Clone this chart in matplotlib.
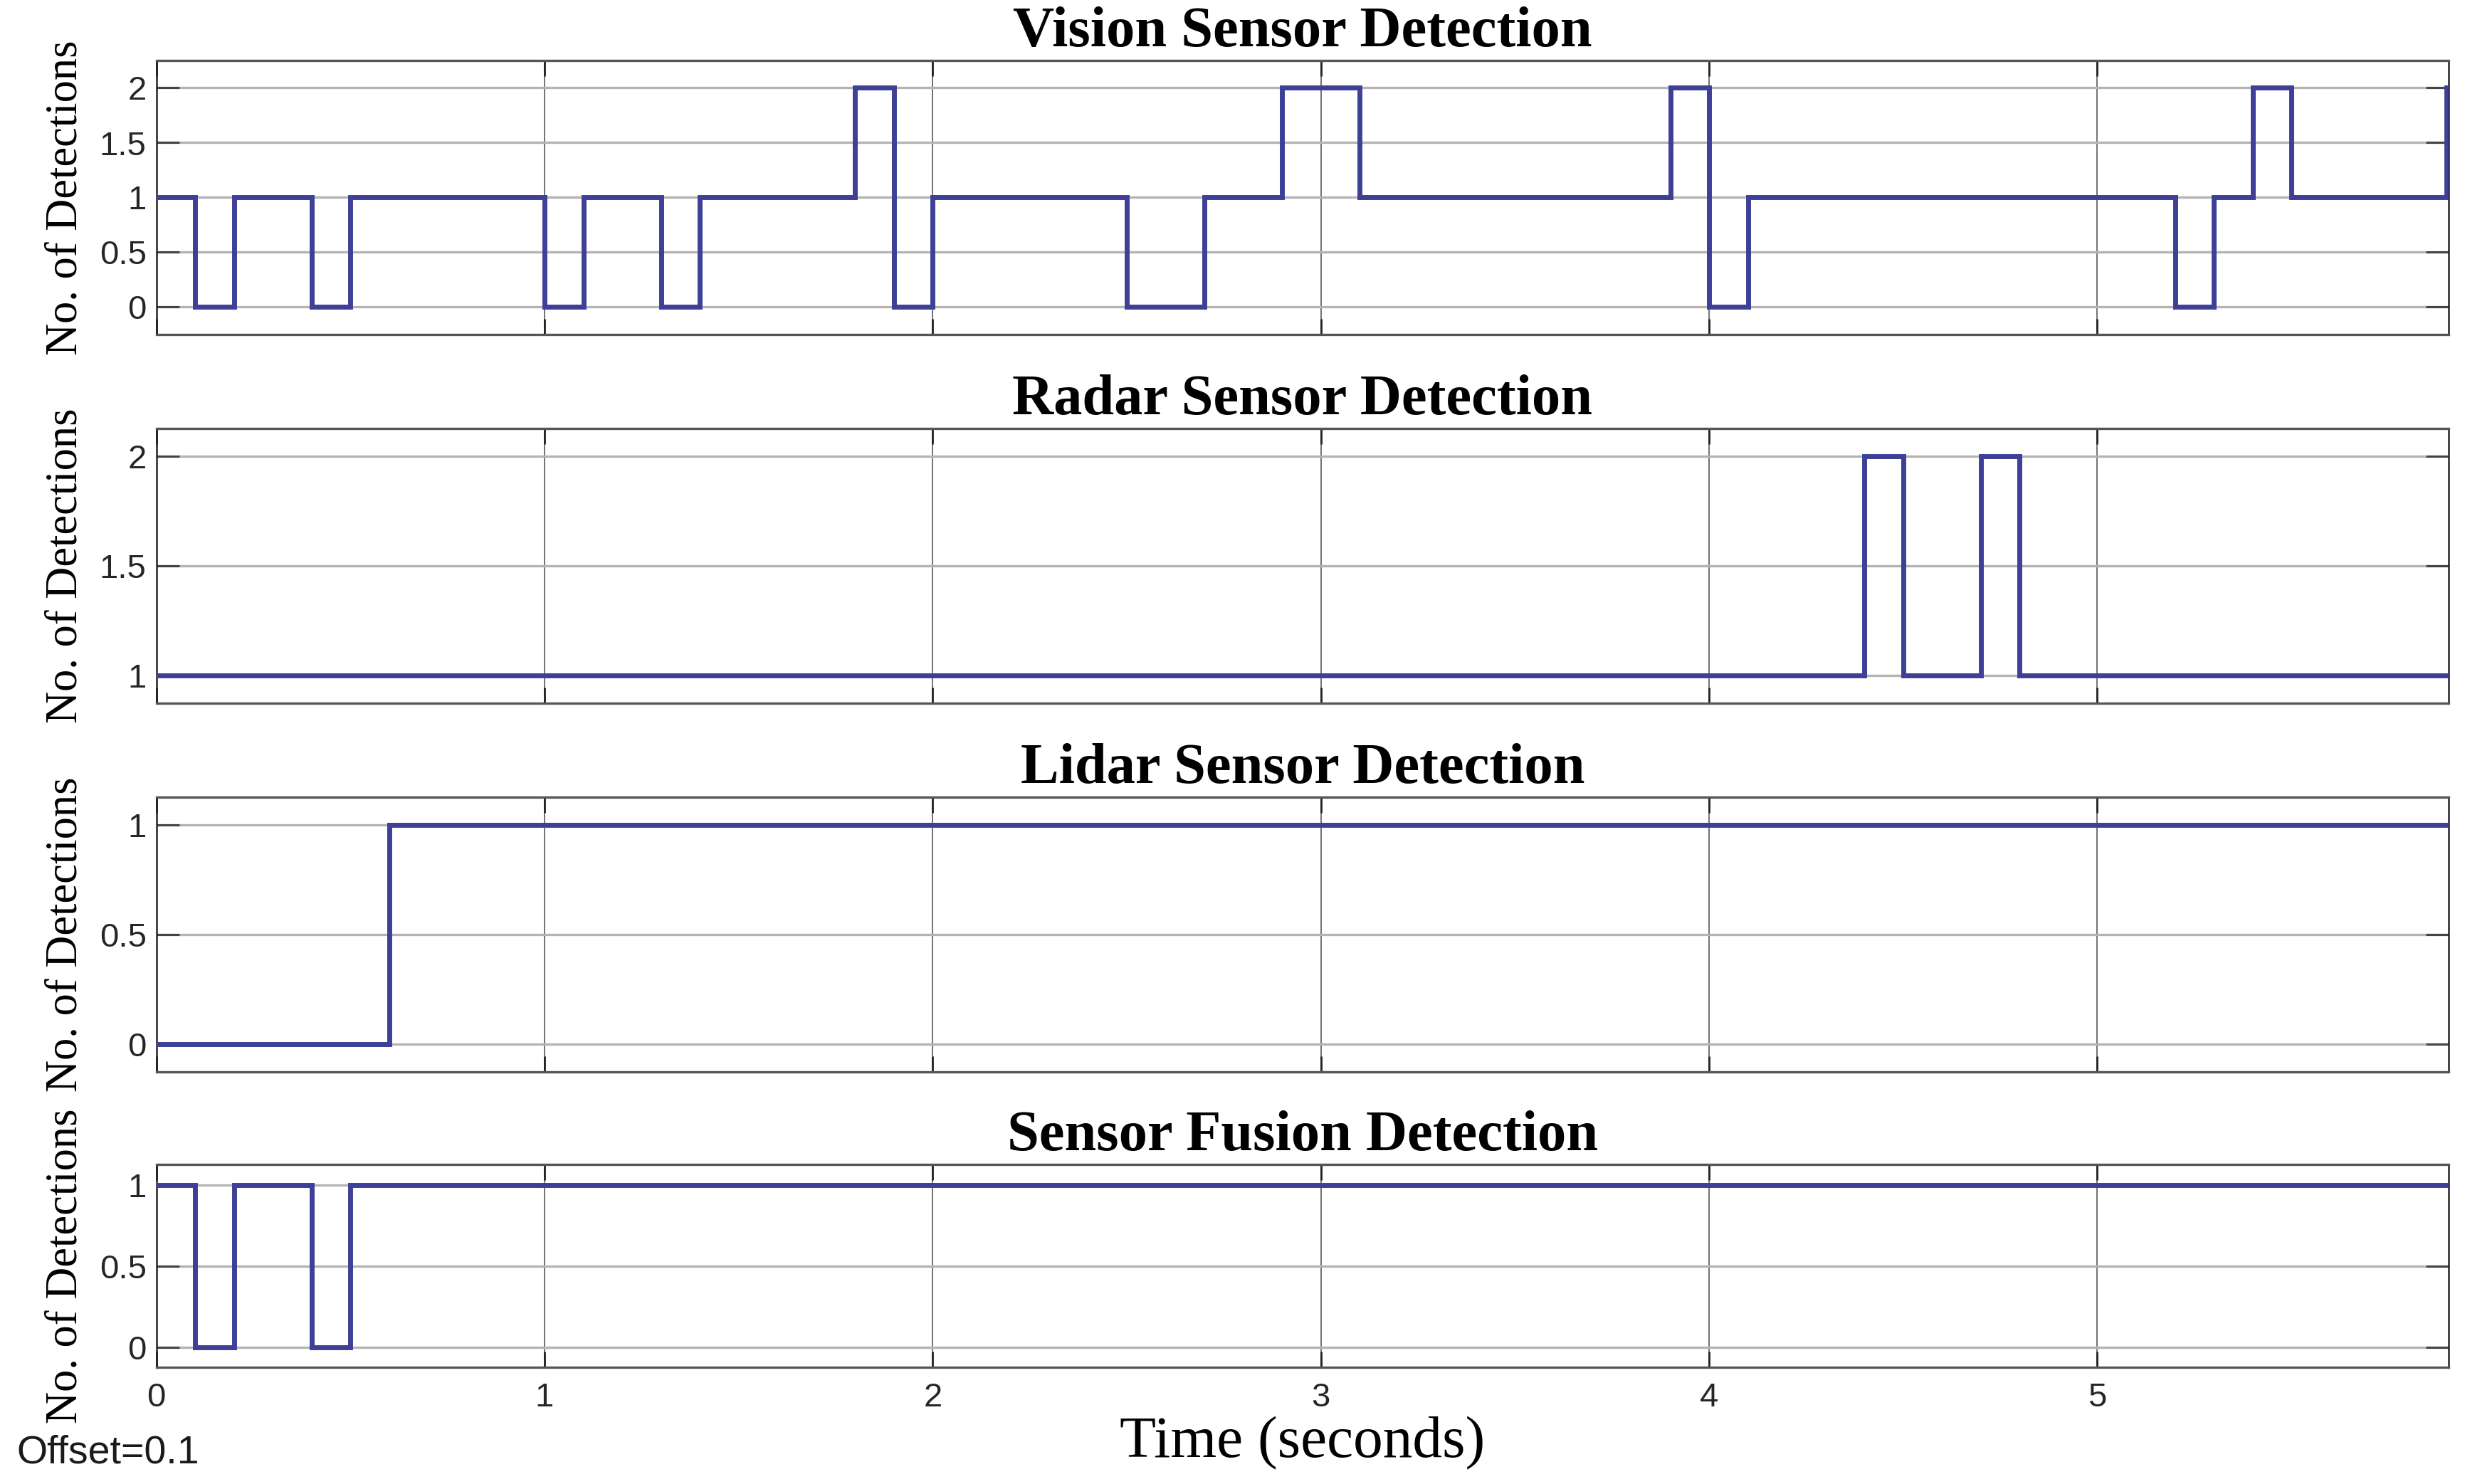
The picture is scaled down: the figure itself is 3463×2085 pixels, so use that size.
import matplotlib
matplotlib.use("Agg")
import matplotlib.pyplot as plt

# ---------------- data ----------------
vision_t = [0, 0.1, 0.2, 0.4, 0.5, 1.0, 1.1, 1.3, 1.4, 1.8, 1.9, 2.0, 2.5, 2.7,
            2.9, 3.1, 3.9, 4.0, 4.1, 5.2, 5.3, 5.4, 5.5, 5.9]
vision_v = [1, 0, 1, 0, 1, 0, 1, 0, 1, 2, 0, 1, 0, 1,
            2, 1, 2, 0, 1, 0, 1, 2, 1, 2]

radar_t = [0, 4.4, 4.5, 4.7, 4.8, 5.9]
radar_v = [1, 2, 1, 2, 1, 1]

lidar_t = [0, 0.6, 5.9]
lidar_v = [0, 1, 1]

fusion_t = [0, 0.1, 0.2, 0.4, 0.5, 5.9]
fusion_v = [1, 0, 1, 0, 1, 1]

titles = ["Vision Sensor Detection", "Radar Sensor Detection",
          "Lidar Sensor Detection", "Sensor Fusion Detection"]

vision_yticks = [0, 0.5, 1, 1.5, 2]
vision_yticklabels = ["0", "0.5", "1", "1.5", "2"]
radar_yticks = [1, 1.5, 2]
radar_yticklabels = ["1", "1.5", "2"]
lidar_yticks = [0, 0.5, 1]
lidar_yticklabels = ["0", "0.5", "1"]
fusion_yticks = [0, 0.5, 1]
fusion_yticklabels = ["0", "0.5", "1"]

xticks = [0, 1, 2, 3, 4, 5]
xticklabels = ["0", "1", "2", "3", "4", "5"]

ylims = [(-0.25, 2.25), (0.875, 2.125), (-0.125, 1.125), (-0.125, 1.125)]
xlim = (0, 5.905)

ylabel = "No. of Detections"
xlabel = "Time (seconds)"
offset_text = "Offset=0.1"

# ---------------- layout ----------------
W, H = 3463, 2085
DPI = 100
fig = plt.figure(figsize=(W / DPI, H / DPI), dpi=DPI)
fig.patch.set_facecolor("white")

left_px, right_px = 219.6, 3440
# (top_px, bottom_px) for each panel
panel_px = [(85, 470), (602, 988), (1120, 1506), (1636, 1921)]

line_color = "#3d4096"
serif = ["Liberation Serif", "DejaVu Serif"]
sans = ["Liberation Sans", "DejaVu Sans"]

series = [(vision_t, vision_v, vision_yticks, vision_yticklabels),
          (radar_t, radar_v, radar_yticks, radar_yticklabels),
          (lidar_t, lidar_v, lidar_yticks, lidar_yticklabels),
          (fusion_t, fusion_v, fusion_yticks, fusion_yticklabels)]

axes = []
for i, ((top, bot), (t, v, yt, ytl)) in enumerate(zip(panel_px, series)):
    ax = fig.add_axes([left_px / W, 1 - bot / H, (right_px - left_px) / W, (bot - top) / H])
    axes.append(ax)
    ax.plot(t, v, drawstyle="steps-post", color=line_color, lw=5.0, zorder=3,
            solid_joinstyle="miter")
    ax.set_xlim(*xlim)
    ax.set_ylim(*ylims[i])
    ax.set_yticks(yt)
    ax.set_yticklabels(ytl, fontfamily=sans, fontsize=34, color="#262626")
    ax.set_xticks(xticks)
    if i == 3:
        ax.set_xticklabels(xticklabels, fontfamily=sans, fontsize=34, color="#262626")
    else:
        ax.set_xticklabels([])

    # grid: vertical thin dark, horizontal light gray
    ax.xaxis.grid(True, color="#4a4a4a", lw=1.1, zorder=1)
    ax.yaxis.grid(True, color="#b4b4b4", lw=2.4, zorder=1)
    ax.set_axisbelow(True)

    ax.tick_params(axis="x", direction="in", top=True, bottom=True, length=16,
                   width=2.0, color="#222222", pad=15)
    ax.tick_params(axis="y", direction="in", left=True, right=True, length=23,
                   width=2.2, color="#444444", pad=10)
    for s in ax.spines.values():
        s.set_color("#555555")
        s.set_linewidth(2.4)
    ax.spines["left"].set_color("#222222")
    ax.spines["left"].set_linewidth(1.8)
    ax.spines["right"].set_color("#222222")
    ax.spines["right"].set_linewidth(1.8)

    ax.set_title(titles[i], fontfamily=serif, fontweight="bold", fontsize=58, pad=14.4)
    ax.set_ylabel(ylabel, fontfamily=serif, fontsize=45, va="baseline")
    ax.yaxis.set_label_coords((107 - left_px) / (right_px - left_px), 0.5)

ax4 = axes[3]
top4, bot4 = panel_px[3]
ax4.set_xlabel(xlabel, fontfamily=serif, fontsize=60, va="baseline")
ax4.xaxis.set_label_coords(0.5, (bot4 - 2047) / (bot4 - top4))

fig.text(23 / W, 1 - 2055 / H, offset_text, fontfamily=sans, fontsize=40,
         ha="left", va="baseline", color="#1a1a1a")

fig.savefig("out.png", dpi=DPI, facecolor="white")
